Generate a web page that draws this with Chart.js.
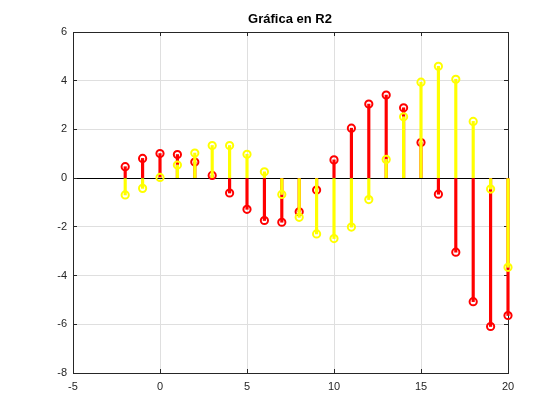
<!DOCTYPE html>
<html>
<head>
<meta charset="utf-8">
<script src="https://cdn.jsdelivr.net/npm/chart.js@4"></script>
<style>
  body { margin: 0; background: #fff; }
</style>
</head>
<body>
<canvas id="myChart" width="560" height="420"></canvas>
<script>
var xs = [-2, -1, 0, 1, 2, 3, 4, 5, 6, 7, 8, 9, 10, 11, 12, 13, 14, 15, 16, 17, 18, 19, 20];
var redVals = [0.47, 0.81, 1.01, 0.97, 0.66, 0.11, -0.61, -1.28, -1.74, -1.81, -1.38, -0.49, 0.75,
               2.05, 3.04, 3.41, 2.89, 1.46, -0.66, -3.04, -5.07, -6.09, -5.64];
var yellowVals = [-0.69, -0.42, 0.03, 0.54, 1.03, 1.34, 1.34, 0.98, 0.26, -0.67, -1.61, -2.29, -2.48,
                  -2.01, -0.88, 0.77, 2.52, 3.94, 4.59, 4.06, 2.33, -0.45, -3.66];

var red = 'rgb(255, 0, 0)';
var yellow = 'rgb(255, 255, 0)';
var axisColor = '#262626';
var gridColor = '#dfdfdf';

function stems(vals) {
    var out = [];
    for (var i = 0; i < xs.length; i++) out.push({x: xs[i], y: [0, vals[i]]});
    return out;
}
function heads(vals) {
    var out = [];
    for (var i = 0; i < xs.length; i++) out.push({x: xs[i], y: vals[i]});
    return out;
}

// tick marks pointing into the plot, like the original
var inTicks = { drawTicks: true, tickLength: -4, tickColor: axisColor, tickWidth: 1 };

var ctx = document.getElementById('myChart').getContext('2d');
var chart = new Chart(ctx, {
    type: 'bar',
    data: {
        datasets: [
            { type: 'bar', data: stems(redVals), backgroundColor: red, barThickness: 2.5, grouped: false,
              clip: false, order: 4 },
            { type: 'scatter', data: heads(redVals), pointStyle: 'circle', pointRadius: 3.6,
              borderColor: red, backgroundColor: 'transparent', borderWidth: 2, clip: false, order: 3 },
            { type: 'bar', data: stems(yellowVals), backgroundColor: yellow, barThickness: 2.5, grouped: false,
              clip: false, order: 2 },
            { type: 'scatter', data: heads(yellowVals), pointStyle: 'circle', pointRadius: 3.6,
              borderColor: yellow, backgroundColor: 'transparent', borderWidth: 2, clip: false, order: 1 }
        ]
    },
    options: {
        responsive: false,
        animation: false,
        devicePixelRatio: 1,
        // left padding 20 + y width 53, right axis 52 wide -> title centred over the plot
        layout: { padding: { left: 20, right: 0, top: 0, bottom: 0 } },
        plugins: {
            legend: { display: false },
            tooltip: { enabled: false },
            title: {
                display: true,
                text: 'Gráfica en R2',
                color: '#000',
                font: { family: 'Liberation Sans', size: 13, weight: 'bold' },
                padding: { top: 12, bottom: 4.4 }
            }
        },
        scales: {
            x: {
                type: 'linear', position: 'bottom', min: -5, max: 20, offset: false,
                ticks: { stepSize: 5, color: axisColor, padding: 11,
                         font: { family: 'Liberation Sans', size: 11 } },
                grid: Object.assign({ color: gridColor, offset: false }, inTicks),
                border: { display: true, color: axisColor, width: 1 },
                afterFit: function(s) { s.height = 47; }
            },
            x2: {
                type: 'linear', position: 'top', min: -5, max: 20, offset: false,
                ticks: { stepSize: 5, display: false },
                grid: Object.assign({ drawOnChartArea: false, offset: false }, inTicks),
                border: { display: true, color: axisColor, width: 1 },
                afterFit: function(s) { s.height = 0; }
            },
            y: {
                type: 'linear', position: 'left', min: -8, max: 6,
                ticks: { stepSize: 2, color: axisColor, padding: 10,
                         font: { family: 'Liberation Sans', size: 11 } },
                grid: Object.assign({
                    color: function(c) { return c.tick && c.tick.value === 0 ? '#000' : gridColor; }
                }, inTicks),
                border: { display: true, color: axisColor, width: 1 },
                afterFit: function(s) { s.width = 53; }
            },
            y2: {
                type: 'linear', position: 'right', min: -8, max: 6,
                ticks: { stepSize: 2, display: false },
                grid: Object.assign({ drawOnChartArea: false }, inTicks),
                border: { display: true, color: axisColor, width: 1 },
                afterFit: function(s) { s.width = 52; }
            }
        }
    }
});
</script>
</body>
</html>
